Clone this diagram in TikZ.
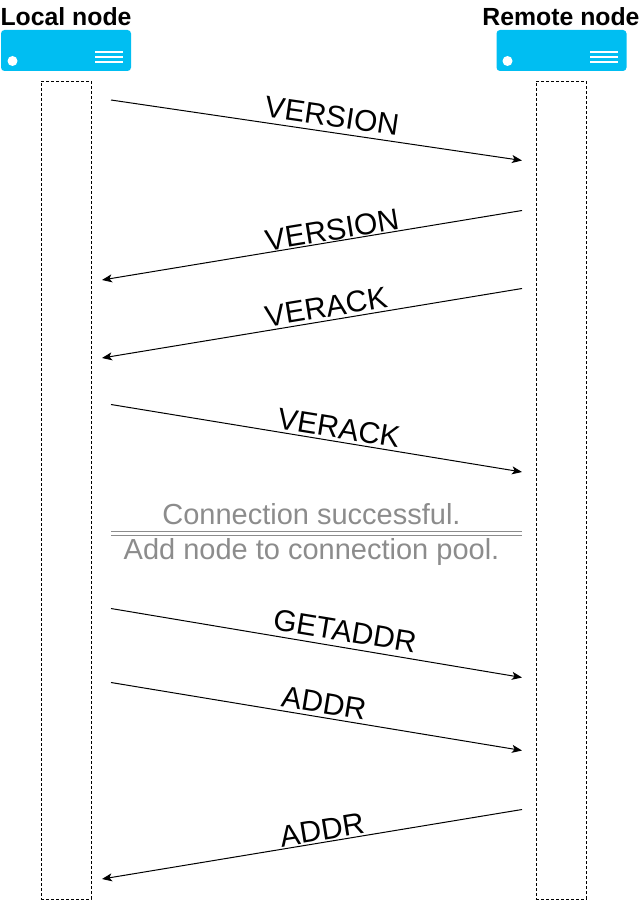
\documentclass[tikz,border=0pt]{standalone}
\usepackage{fontspec}
\setmainfont{Liberation Sans}
\usetikzlibrary{arrows.meta}
\definecolor{iconblue}{HTML}{00BEF2}
\definecolor{notegray}{HTML}{8C8C8C}
\tikzset{
  x=1pt,y=-1pt,
  msg/.style={draw=black,line width=1pt,-{Stealth[length=10pt,width=8pt,inset=2.5pt]}},
  lifebox/.style={draw=black,line width=0.9pt,dash pattern=on 3pt off 2pt,minimum width=50pt,minimum height=818pt,inner sep=0pt},
  hostname/.style={font=\bfseries\fontsize{24.8}{28}\selectfont,text=black,inner sep=0pt},
  msglabel/.style={font=\fontsize{30}{32}\selectfont,text=black,inner sep=0pt},
  notelabel/.style={font=\fontsize{29}{32}\selectfont,text=notegray,inner sep=0pt},
  iconbody/.style={fill=iconblue,draw=none,rounded corners=3.5pt,minimum width=130pt,minimum height=41pt,inner sep=0pt},
  iconmark/.style={draw=white,line width=2.8pt},
  icondot/.style={fill=white,draw=none,circle,minimum size=10pt,inner sep=0pt},
  rule/.style={draw=notegray,line width=1pt}
}
\begin{document}
\begin{tikzpicture}
\useasboundingbox (0,0) rectangle (640,901);
\node[hostname] (localname) at (66,16.5) {Local node};
\node[hostname] (remotename) at (561,16.5) {Remote node};
\node[iconbody] (localicon) at (66,50.5) {};
\node[iconbody] (remoteicon) at (561.5,50.5) {};
\node[icondot] (localdot) at (12.5,61) {};
\node[icondot] (remotedot) at (507.5,61) {};
\foreach \y in {52,57,62} {
  \draw[iconmark] (95,\y) -- (123,\y);
  \draw[iconmark] (590,\y) -- (618,\y);
}
\node[lifebox] (locallife) at (66,490) {};
\node[lifebox] (remotelife) at (561,490) {};
\coordinate (a1) at (111,100);   \coordinate (b1) at (522,160.5);
\coordinate (a2) at (522,210.5);   \coordinate (b2) at (102,280);
\coordinate (a3) at (522,288.5);   \coordinate (b3) at (102,358);
\coordinate (a4) at (111,404.5);   \coordinate (b4) at (522,472);
\coordinate (a5) at (111,608.5);   \coordinate (b5) at (522,677.5);
\coordinate (a6) at (111,682.5);   \coordinate (b6) at (522,750.5);
\coordinate (a7) at (522,809.5);   \coordinate (b7) at (102,879);
\draw[msg] (a1) -- (b1);
\draw[msg] (a2) -- (b2);
\draw[msg] (a3) -- (b3);
\draw[msg] (a4) -- (b4);
\draw[msg] (a5) -- (b5);
\draw[msg] (a6) -- (b6);
\draw[msg] (a7) -- (b7);
\node[msglabel,rotate=-8.3] (l1) at (332,116) {VERSION};
\node[msglabel,rotate=9.3] (l2) at (332,230) {VERSION};
\node[msglabel,rotate=9.3] (l3) at (326,307) {VERACK};
\node[msglabel,rotate=-9.2] (l4) at (339,428) {VERACK};
\node[msglabel,rotate=-9.4] (l5) at (345,631) {GETADDR};
\node[msglabel,rotate=-9.3] (l6) at (324,703) {ADDR};
\node[msglabel,rotate=9.3] (l7) at (322,830) {ADDR};
\coordinate (r1a) at (111,531); \coordinate (r1b) at (522,531);
\coordinate (r2a) at (111,535); \coordinate (r2b) at (522,535);
\draw[rule] (r1a) -- (r1b);
\draw[rule] (r2a) -- (r2b);
\node[notelabel] (n1) at (311.5,514) {Connection successful.};
\node[notelabel] (n2) at (311.5,552) {Add node to connection pool.};
\end{tikzpicture}
\end{document}
